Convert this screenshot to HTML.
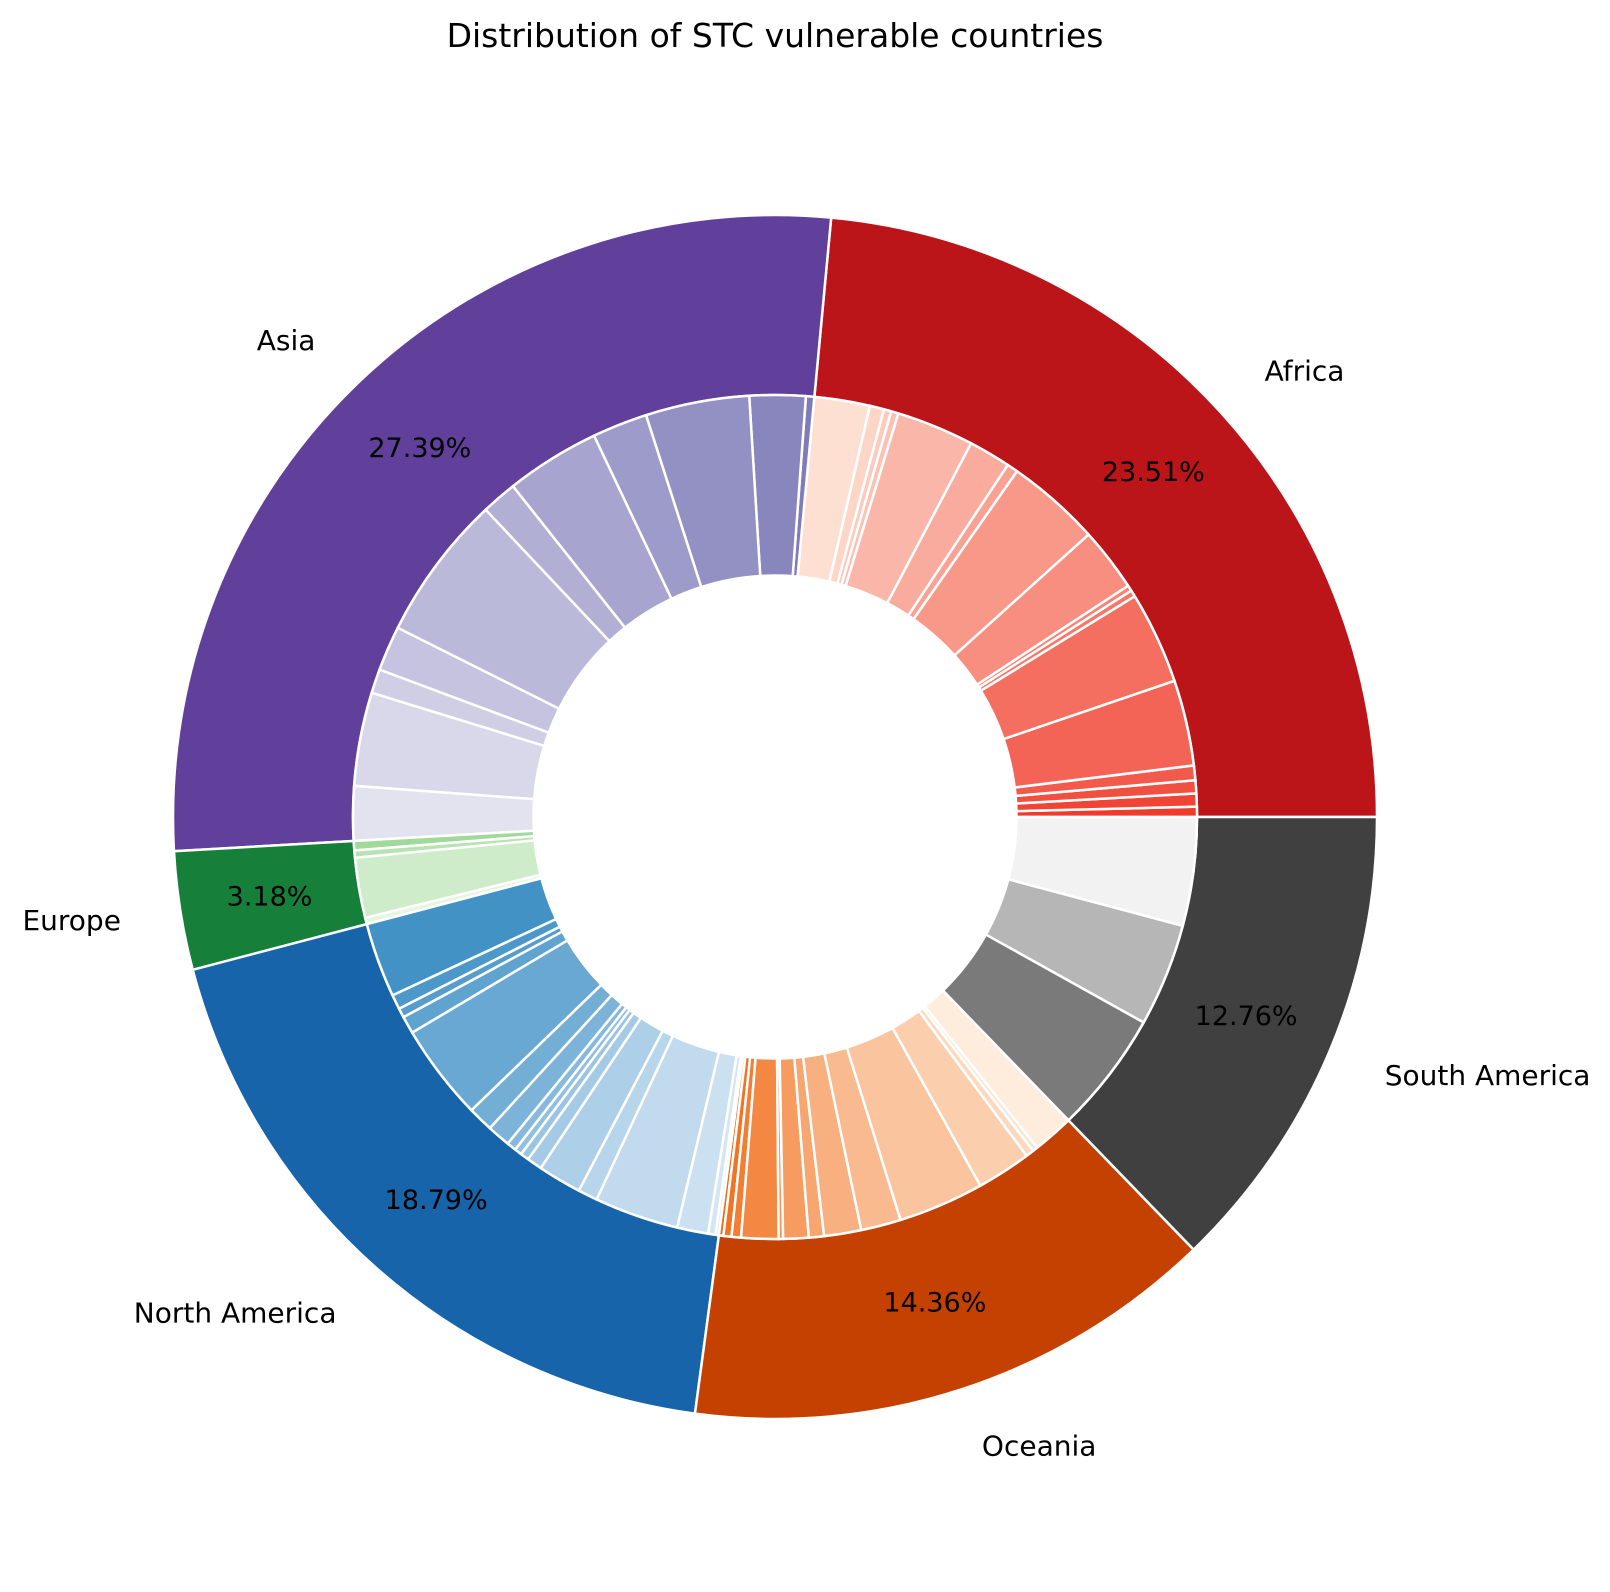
<!DOCTYPE html>
<html><head><meta charset="utf-8"><style>
html,body{margin:0;padding:0;background:#fff;}
svg{display:block;font-family:"DejaVu Sans","Liberation Sans",sans-serif;}
</style></head><body>
<svg id="chart" width="1610" height="1592" viewBox="0 0 1610 1592">
<text x="775" y="47" text-anchor="middle" font-size="33">Distribution of STC vulnerable countries</text>
<g id="outer"></g>
<g id="inner"></g>
<g id="labels"></g>
</svg>
<script>
const continents = ["Africa","Asia","Europe","North America","Oceania","South America"];
const continentValues = [23.51,27.39,3.18,18.79,14.36,12.76];
const continentColors = ["#bb151a","#61409b","#167f39","#1764ab","#c44101","#404040"];
const africaValues = [0.39,0.5,0.5,0.56,3.28,3.53,0.25,0.22,2.44,3.61,0.42,1.61,2.97,0.28,0.28,0.55,2.12];
const asiaValues = [0.32,2.14,3.97,2.11,3.61,1.36,5.58,1.72,0.92,3.58,2.08];
const europeValues = [0.36,0.28,2.3,0.24];
const northAmericaValues = [2.86,0.56,0.36,0.67,3.69,0.97,0.89,0.36,0.28,0.33,0.58,1.67,0.75,3.22,1.19,0.28,0.13];
const oceaniaValues = [0.17,0.31,0.36,1.42,0.17,0.97,0.58,1.42,1.53,3.28,2.08,0.31,0.19,1.58];
const southAmericaValues = [4.67,3.94,4.15];
const innerGroups = [africaValues,asiaValues,europeValues,northAmericaValues,oceaniaValues,southAmericaValues];
const gradients = [["#ef3b2c","#fee0d2"],["#7f7cb9","#e3e2ef"],["#a1d99b","#e5f5e0"],["#4292c6","#deebf7"],["#f16913","#feeddd"],["#7a7a7a","#f2f2f2"]];

const CX=775, CY=817, R1=602, R0=422, RI=241.5;
const NS="http://www.w3.org/2000/svg";
function hex(c){return [1,3,5].map(i=>parseInt(c.substr(i,2),16));}
function mix(a,b,t){const A=hex(a),B=hex(b);return "rgb("+A.map((v,i)=>Math.round(v+(B[i]-v)*t)).join(",")+")";}
function pt(r,deg){const a=deg*Math.PI/180;return [CX+r*Math.cos(a),CY-r*Math.sin(a)];}
function wedge(r0,r1,a0,a1){
  const large=(a1-a0)>180?1:0;
  const p1=pt(r1,a0),p2=pt(r1,a1),p3=pt(r0,a1),p4=pt(r0,a0);
  return `M${p1[0]},${p1[1]}A${r1},${r1} 0 ${large} 0 ${p2[0]},${p2[1]}L${p3[0]},${p3[1]}A${r0},${r0} 0 ${large} 1 ${p4[0]},${p4[1]}Z`;
}
const total=continentValues.reduce((a,b)=>a+b,0);
const og=document.getElementById('outer'), ig=document.getElementById('inner'), lg=document.getElementById('labels');
let acc=0;
continentValues.forEach((v,i)=>{
  const a0=acc/total*360, a1=(acc+v)/total*360;
  const p=document.createElementNS(NS,'path');
  p.setAttribute('d',wedge(R0,R1,a0,a1));
  p.setAttribute('fill',continentColors[i]);
  p.setAttribute('stroke','#fff');p.setAttribute('stroke-width','2.5');
  
  
  og.appendChild(p);
  const mid=(a0+a1)/2;
  const lp=pt(R1*1.1,mid);
  const t=document.createElementNS(NS,'text');
  t.setAttribute('x',lp[0]);t.setAttribute('y',lp[1]);
  t.setAttribute('font-size','28');t.setAttribute('dominant-baseline','central');
  t.setAttribute('text-anchor',lp[0]>=CX?'start':'end');
  t.textContent=continents[i];
  
  
  lg.appendChild(t);
  const pp=pt(R1*0.85,mid);
  const q=document.createElementNS(NS,'text');
  q.setAttribute('x',pp[0]);q.setAttribute('y',pp[1]);
  q.setAttribute('font-size','27');q.setAttribute('dominant-baseline','central');
  q.setAttribute('text-anchor','middle');
  q.textContent=(v/total*100).toFixed(2)+'%';
  
  
  lg.appendChild(q);
  const grp=innerGroups[i];
  let sub=acc;
  grp.forEach((w,j)=>{
    const b0=sub/total*360, b1=(sub+w)/total*360;
    const s=document.createElementNS(NS,'path');
    s.setAttribute('d',wedge(RI,R0,b0,b1));
    s.setAttribute('fill',mix(gradients[i][0],gradients[i][1],grp.length>1?j/(grp.length-1):0));
    s.setAttribute('stroke','#fff');s.setAttribute('stroke-width','2.5');
    
    
    ig.appendChild(s);
    sub+=w;
  });
  acc+=v;
});
</script>
</body></html>
